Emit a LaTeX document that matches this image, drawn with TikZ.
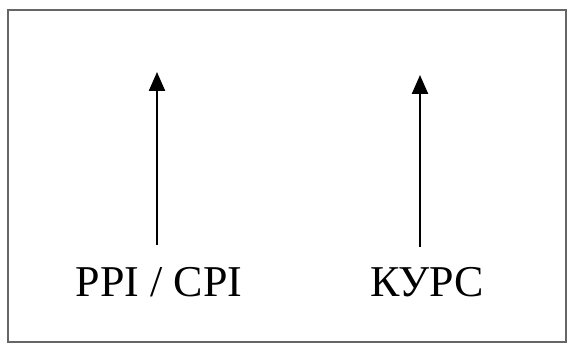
\documentclass[tikz,border=0pt]{standalone}
\usepackage{fontspec}
\setmainfont{Liberation Serif}
\usetikzlibrary{arrows.meta}

\begin{document}
\begin{tikzpicture}[x=1pt, y=-1pt,
          every node/.style = {inner sep=0pt, font=\fontsize{44}{50}\selectfont},
          uparrow/.style = {line width=2.2pt, -{Triangle[length=19pt,width=16pt]}}]
        \useasboundingbox (0,0) rectangle (568,344);
        \draw[line width=1.5pt, black!60] (8,10) rectangle (566,342);
        % labels
        \node (ppi) at (159,282) {PPI / CPI};
        \node (kurs) at (427,282) {КУРС};
        % arrows
        \coordinate (ppibot) at (157,245);
        \coordinate (ppitop) at (157,72);
        \coordinate (kursbot) at (420,247);
        \coordinate (kurstop) at (420,75);
        \draw[uparrow] (ppibot) -- (ppitop);
        \draw[uparrow] (kursbot) -- (kurstop);
\end{tikzpicture}
\end{document}
